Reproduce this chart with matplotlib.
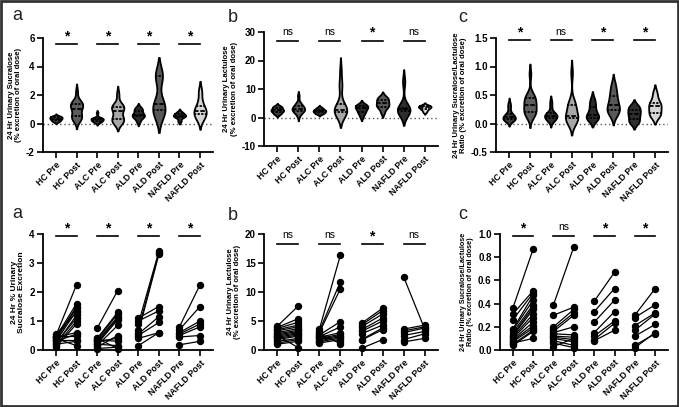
import matplotlib
matplotlib.use("Agg")
import matplotlib.pyplot as plt
import seaborn as sns
import pandas as pd
import numpy as np
from matplotlib.patches import Rectangle

plt.rcParams['font.family'] = ['Liberation Sans', 'DejaVu Sans']

groups = ["HC Pre", "HC Post", "ALC Pre", "ALC Post", "ALD Pre", "ALD Post", "NAFLD Pre", "NAFLD Post"]
cohorts = ["HC", "ALC", "ALD", "NAFLD"]

# ---- Sucralose (% excretion) ----
suc_hc_pre = [0.50, 0.45, 0.40, 0.35, 0.30, 0.55, 0.20, 0.25, 0.15, 0.10, 0.45, 0.30, 0.50, 0.35, 0.20, 0.40]
suc_hc_post = [2.25, 1.60, 1.50, 1.45, 1.35, 1.30, 1.20, 1.10, 1.00, 0.90, 0.60, 0.55, 0.50, 0.35, 0.30, 0.15]
suc_alc_pre = [0.75, 0.40, 0.35, 0.30, 0.25, 0.20, 0.15, 0.10, 0.30, 0.35, 0.20, 0.05, 0.40]
suc_alc_post = [2.05, 1.30, 1.25, 1.15, 1.10, 1.05, 0.85, 0.50, 0.40, 0.30, 0.15, 0.10, 0.05]
suc_ald_pre = [0.90, 0.70, 0.60, 1.10, 1.00, 0.55, 0.50, 0.40, 0.15]
suc_ald_post = [3.40, 3.35, 3.30, 1.50, 1.35, 1.15, 0.95, 0.60, 0.60]
suc_nafld_pre = [0.80, 0.70, 0.60, 0.55, 0.50, 0.45, 0.18]
suc_nafld_post = [2.25, 1.50, 1.00, 0.90, 0.80, 0.50, 0.30]

# ---- Lactulose (% excretion) ----
lac_hc_pre = [4.1, 3.9, 3.7, 3.5, 3.3, 3.0, 2.8, 2.6, 2.4, 2.2, 2.0, 1.8, 1.5, 1.2, 1.0, 2.5]
lac_hc_post = [7.6, 5.4, 4.8, 4.3, 4.0, 3.7, 3.4, 3.2, 3.0, 2.8, 2.6, 2.4, 2.0, 1.8, 1.5, 0.4]
lac_alc_pre = [3.6, 3.3, 3.0, 2.6, 2.3, 2.2, 2.0, 1.8, 1.6, 1.4, 1.2, 2.4, 2.8]
lac_alc_post = [16.4, 11.8, 10.6, 4.9, 4.0, 3.0, 2.7, 2.5, 2.3, 2.1, 1.8, 1.4, 1.1]
lac_ald_pre = [4.6, 4.3, 4.0, 3.5, 3.2, 2.8, 1.8, 1.7, 0.3]
lac_ald_post = [7.2, 6.8, 6.2, 5.5, 5.0, 4.3, 3.8, 3.5, 1.8]
lac_nafld_pre = [12.6, 3.6, 3.3, 3.0, 2.5, 1.8, 1.4]
lac_nafld_post = [3.6, 4.3, 4.0, 3.8, 3.2, 2.8, 2.0]

# ---- Sucralose/Lactulose ratio ----
rat_hc_pre = [0.36, 0.31, 0.26, 0.18, 0.17, 0.15, 0.13, 0.12, 0.11, 0.10, 0.09, 0.08, 0.07, 0.05, 0.04, 0.06]
rat_hc_post = [0.87, 0.51, 0.49, 0.47, 0.43, 0.39, 0.37, 0.35, 0.31, 0.28, 0.24, 0.21, 0.19, 0.17, 0.16, 0.10]
rat_alc_pre = [0.39, 0.30, 0.20, 0.18, 0.16, 0.15, 0.14, 0.12, 0.11, 0.10, 0.08, 0.06, 0.03]
rat_alc_post = [0.89, 0.37, 0.35, 0.32, 0.30, 0.20, 0.13, 0.11, 0.09, 0.07, 0.04, 0.02, 0.10]
rat_ald_pre = [0.42, 0.33, 0.24, 0.15, 0.12, 0.09, 0.08]
rat_ald_post = [0.67, 0.53, 0.43, 0.33, 0.25, 0.23, 0.17]
rat_nafld_pre = [0.30, 0.28, 0.21, 0.17, 0.12, 0.04, 0.02]
rat_nafld_post = [0.53, 0.39, 0.32, 0.31, 0.22, 0.14, 0.15]

suc = [(suc_hc_pre, suc_hc_post), (suc_alc_pre, suc_alc_post), (suc_ald_pre, suc_ald_post), (suc_nafld_pre, suc_nafld_post)]
lac = [(lac_hc_pre, lac_hc_post), (lac_alc_pre, lac_alc_post), (lac_ald_pre, lac_ald_post), (lac_nafld_pre, lac_nafld_post)]
rat = [(rat_hc_pre, rat_hc_post), (rat_alc_pre, rat_alc_post), (rat_ald_pre, rat_ald_post), (rat_nafld_pre, rat_nafld_post)]

sig_suc = ["*", "*", "*", "*"]
sig_lac = ["ns", "ns", "*", "ns"]
sig_rat = ["*", "ns", "*", "*"]

violin_colors = ["#3c3c3c", "#5c5c5c", "#2e2e2e", "#a6a6a6", "#2a2a2a", "#585858", "#2e2e2e", "#d6d6d6"]

fig = plt.figure(figsize=(6.79, 4.07), dpi=100)

W, H = 679.0, 407.0
def pos(x0, x1, ytop, ybot):
    return [x0 / W, 1 - ybot / H, (x1 - x0) / W, (ybot - ytop) / H]

axes_top = [fig.add_axes(pos(43, 213, 38, 152)),
            fig.add_axes(pos(264, 438, 32, 146)),
            fig.add_axes(pos(496, 668, 38, 152))]
axes_bot = [fig.add_axes(pos(43, 213, 234, 350)),
            fig.add_axes(pos(264, 438, 234, 350)),
            fig.add_axes(pos(500, 668, 234, 350))]

def style(ax, yticks, yticklabels, ylim, ylabel, lsize=5.6):
    ax.set_xlim(-0.63, 7.63)
    ax.set_ylim(*ylim)
    ax.set_yticks(yticks)
    ax.set_yticklabels(yticklabels, fontsize=7, fontweight='bold')
    ax.set_xticks(range(8))
    ax.set_xticklabels(groups, rotation=45, ha='right', rotation_mode='anchor',
                       fontsize=6.3, fontweight='bold')
    for s in ['top', 'right']:
        ax.spines[s].set_visible(False)
    for s in ['left', 'bottom']:
        ax.spines[s].set_linewidth(1.3)
    ax.tick_params(axis='both', direction='out', length=4, width=1.2, pad=2)
    ax.set_ylabel(ylabel, fontsize=lsize, fontweight='bold', labelpad=3, linespacing=1.0)
    ax.set_xlabel("")

def sig(ax, labels, ybar, dy):
    for i, lab in enumerate(labels):
        x0, x1 = 2 * i, 2 * i + 1
        ax.plot([x0, x1], [ybar, ybar], color='black', lw=1.2, clip_on=False)
        if lab == "*":
            ax.text((x0 + x1) / 2, ybar + dy * 0.2, "*", ha='center', va='bottom',
                    fontsize=10, fontweight='bold', clip_on=False)
        else:
            ax.text((x0 + x1) / 2, ybar + dy, "ns", ha='center', va='bottom',
                    fontsize=7.5, clip_on=False)

def violin(ax, data):
    rows = []
    for i, (pre, post) in enumerate(data):
        for v in pre:
            rows.append((groups[2 * i], v))
        for v in post:
            rows.append((groups[2 * i + 1], v))
    df = pd.DataFrame(rows, columns=["group", "value"])
    ax.axhline(0, color='#555555', lw=1.0, ls=(0, (1, 2)), zorder=0)
    sns.violinplot(data=df, x="group", y="value", order=groups, hue="group", hue_order=groups,
                   palette=violin_colors, legend=False, inner="quart", linewidth=1.3,
                   linecolor="black", cut=2, density_norm="width", width=0.6,
                   bw_adjust=0.8, ax=ax, saturation=1)

def paired(ax, data):
    for i, (pre, post) in enumerate(data):
        for a, b in zip(pre, post):
            ax.plot([2 * i, 2 * i + 1], [a, b], color='black', lw=0.9,
                    marker='o', markersize=4.3, clip_on=False, zorder=3)

ylabels_top = ["24 Hr Urinary Sucralose\n(% excretion of oral dose)",
               "24 Hr Urinary Lactulose\n(% excretion of oral dose)",
               "24 Hr Urinary Sucralose/Lactulose\nRatio (% excretion of oral dose)"]
ylabels_bot = ["24 Hr % Urinary\nSucralose Excretion",
               "24 Hr Urinary Lactulose\n(% excretion of oral dose)",
               "24 Hr Urinary Sucralose/Lactulose\nRatio (% excretion of oral dose)"]

# top row
violin(axes_top[0], suc)
style(axes_top[0], [-2, 0, 2, 4, 6], ["-2", "0", "2", "4", "6"], (-2, 6), ylabels_top[0])
sig(axes_top[0], sig_suc, 5.6, 0.25)

violin(axes_top[1], lac)
style(axes_top[1], [-10, 0, 10, 20, 30], ["-10", "0", "10", "20", "30"], (-10, 30), ylabels_top[1])
sig(axes_top[1], sig_lac, 27, 1.2)

violin(axes_top[2], rat)
style(axes_top[2], [-0.5, 0, 0.5, 1.0, 1.5], ["-0.5", "0.0", "0.5", "1.0", "1.5"], (-0.5, 1.5), ylabels_top[2])
sig(axes_top[2], sig_rat, 1.47, 0.05)

# bottom row
paired(axes_bot[0], suc)
style(axes_bot[0], [0, 1, 2, 3, 4], ["0", "1", "2", "3", "4"], (0, 4), ylabels_bot[0], lsize=6.0)
sig(axes_bot[0], sig_suc, 3.92, 0.12)

paired(axes_bot[1], lac)
style(axes_bot[1], [0, 5, 10, 15, 20], ["0", "5", "10", "15", "20"], (0, 20), ylabels_bot[1])
sig(axes_bot[1], sig_lac, 18.3, 0.7)

paired(axes_bot[2], rat)
style(axes_bot[2], [0, 0.2, 0.4, 0.6, 0.8, 1.0], ["0.0", "0.2", "0.4", "0.6", "0.8", "1.0"], (0, 1.0), ylabels_bot[2], lsize=5.2)
sig(axes_bot[2], sig_rat, 0.98, 0.035)

# panel letters
for (x, y, t) in [(12, 20, "a"), (228, 22, "b"), (458, 22, "c"),
                  (12, 218, "a"), (228, 220, "b"), (458, 219, "c")]:
    fig.text(x / W, 1 - y / H, t, fontsize=13, ha='left', va='baseline', color='#222222')

fig.patches.append(Rectangle((0.002, 0.003), 0.996, 0.994, transform=fig.transFigure,
                             fill=False, edgecolor='#333333', lw=2))

fig.savefig("out.png", dpi=100)
